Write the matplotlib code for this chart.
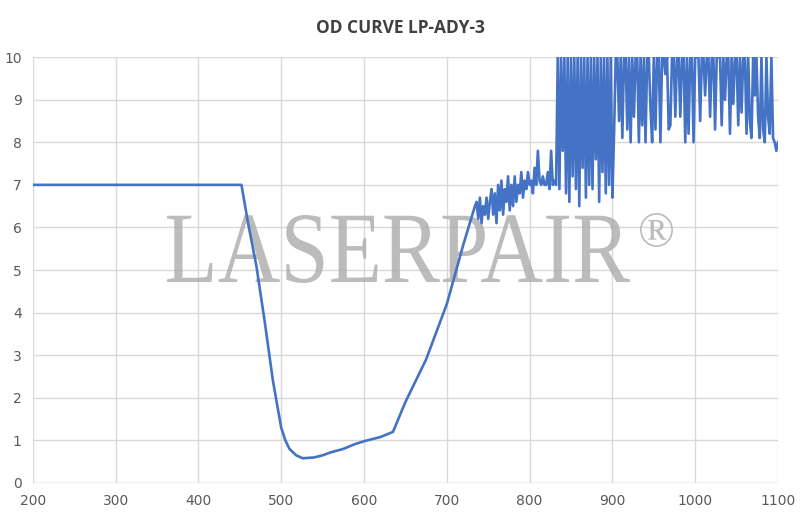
import numpy as np
import matplotlib
matplotlib.use("Agg")
import matplotlib.pyplot as plt
from matplotlib.textpath import TextPath
from matplotlib.patches import PathPatch
from matplotlib.font_manager import FontProperties
from matplotlib.transforms import Affine2D, IdentityTransform

# flat + transition part (nm, OD)
wl_smooth = [200, 300, 400, 452, 460, 470, 480, 490, 500, 505, 510, 518, 526, 540,
             550, 560, 575, 590, 600, 620, 635, 650, 675, 700, 720, 734]
od_smooth = [7.0, 7.0, 7.0, 7.0, 6.1, 5.1, 3.8, 2.4, 1.3, 1.0, 0.8, 0.65, 0.58, 0.6,
             0.65, 0.72, 0.8, 0.92, 0.98, 1.08, 1.2, 1.9, 2.9, 4.2, 5.6, 6.5]

# noisy region 736-830 nm, step 2
od_noise_a = [6.6, 6.2, 6.7, 6.1, 6.5, 6.3, 6.7, 6.2, 6.6, 6.9, 6.3, 6.8, 6.1, 7.0,
              6.4, 7.1, 6.3, 6.9, 6.6, 7.2, 6.4, 7.0, 6.5, 7.2, 6.6, 7.0, 6.8, 7.3,
              6.7, 7.1, 6.9, 7.3, 7.0, 7.1, 6.8, 7.4, 7.0, 7.8, 7.1, 7.0, 7.2, 7.0,
              7.0, 7.3, 6.9, 7.8, 7.0, 7.1]

# 832-900 nm, step 2
od_noise_b = [7.0, 10, 6.9, 10, 7.8, 10, 6.8, 10, 6.6, 10, 7.2, 10, 6.9, 10, 6.5,
              10, 7.4, 10, 6.7, 10, 7.0, 10, 6.9, 10, 7.6, 10, 6.6, 10, 7.3, 10,
              6.8, 10, 7.0, 10, 6.7]

# 902-1100 nm, step 2
od_noise_c = [8.2, 10, 10, 8.5, 10, 8.1, 10, 10, 8.3, 10, 8.0, 10, 8.6, 10, 10,
              8.0, 10, 8.4, 10, 8.0, 10, 10, 8.8, 8.0, 10, 8.3, 10, 10, 8.0, 10,
              10, 9.6, 10, 8.3, 8.4, 10, 10, 8.6, 10, 10, 8.6, 10, 10, 8.0, 10,
              8.2, 10, 10, 8.0, 10, 10, 10, 8.5, 10, 10, 9.1, 10, 10, 8.6, 10,
              10, 8.3, 10, 10, 10, 8.4, 10, 9.0, 10, 10, 8.2, 10, 8.9, 10, 10,
              8.4, 10, 8.7, 10, 10, 8.2, 10, 8.5, 8.1, 10, 9.1, 10, 8.6, 8.1, 10,
              8.3, 8.0, 10, 8.6, 8.2, 10, 8.1, 8.0, 7.8, 8.0]

wl = np.concatenate([wl_smooth,
                     np.arange(736, 831, 2),
                     np.arange(832, 901, 2),
                     np.arange(902, 1101, 2)])
od = np.concatenate([od_smooth, od_noise_a, od_noise_b, od_noise_c])

W, H = 800, 519
fig = plt.figure(figsize=(W / 100, H / 100), dpi=100)
ax = fig.add_axes([0.041, 0.0694, 0.9315, 0.8206])

ax.plot(wl, od, color="#4472C4", lw=1.9, zorder=3)


# watermark, squeezed a bit horizontally like the original
def stamp(text, x0, x1, top, bottom):
    fp = FontProperties(family="Liberation Serif")
    tp = TextPath((0, 0), text, size=100, prop=fp)
    e = tp.get_extents()
    tr = (Affine2D().translate(-e.x0, -e.y0)
          .scale((x1 - x0) / e.width, (bottom - top) / e.height)
          .translate(x0, H - bottom))
    p = PathPatch(tp.transformed(tr), transform=IdentityTransform(),
                  fc="#ababab", ec="none", alpha=0.8, zorder=2, clip_on=False)
    ax.add_patch(p)


stamp("LASERPAIR", 167, 630, 215, 283)
stamp("®", 640, 673, 213, 247)

ax.set_xlim(200, 1100)
ax.set_ylim(0, 10)
ax.set_xticks(range(200, 1101, 100))
ax.set_yticks(range(0, 11))
ax.grid(True, color="#d9d9d9", lw=1)
ax.set_axisbelow(True)
for s in ax.spines.values():
    s.set_visible(False)
ax.axhline(0, color="#d9d9d9", lw=1, zorder=1)
ax.tick_params(length=0, labelsize=10, colors="#595959", pad=8)

fig.text(0.5, 0.946, "OD CURVE LP-ADY-3", ha="center", va="center",
         fontsize=12.5, fontweight="bold", color="#404040", family="Open Sans")

fig.savefig("out.png", dpi=100)
